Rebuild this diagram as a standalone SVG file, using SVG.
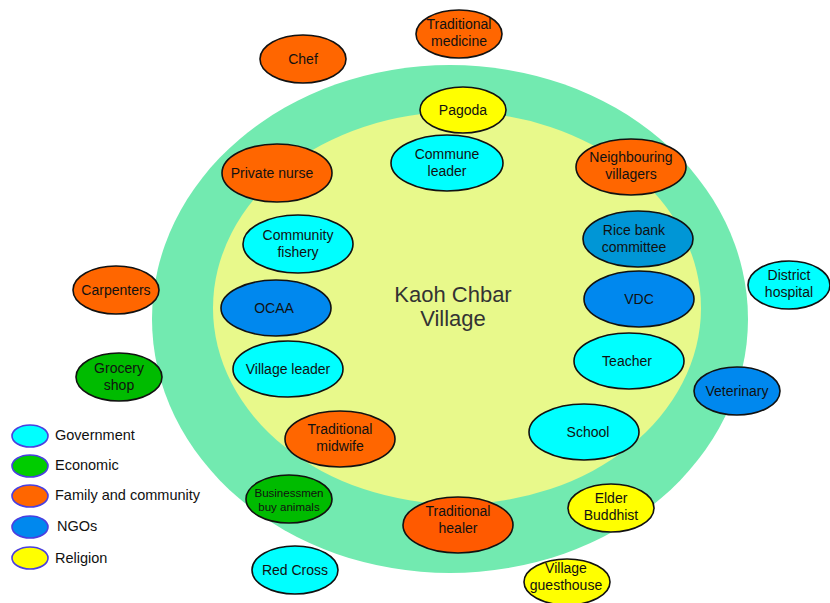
<svg xmlns="http://www.w3.org/2000/svg" width="830" height="603" viewBox="0 0 830 603">
  <style>
    .node ellipse { stroke: #111; stroke-width: 1.6; }
    .node text, .legend text { font-family: "Liberation Sans", Arial, sans-serif; font-size: 14px; fill: #111; text-anchor: middle; }
    .legend text { text-anchor: start; font-size: 14.5px; }
    .legend ellipse { stroke: #4a3fe0; stroke-width: 1.6; }
    .gov { fill: #00ffff; }
    .eco { fill: #00bb00; }
    .fam { fill: #ff6600; }
    .ngo { fill: #0088ee; }
    .ngo2 { fill: #0096d6; }
    .rel { fill: #ffff00; }
    .title { font-family: "Liberation Sans", Arial, sans-serif; font-size: 22px; fill: #333; text-anchor: middle; }
  </style>

  <rect width="830" height="603" fill="#ffffff"/>

  <!-- rings: outside the village and the village itself -->
  <ellipse cx="450" cy="319" rx="298" ry="254" fill="#72eab0"/>
  <ellipse cx="457" cy="308" rx="244" ry="196" fill="#e8f98b"/>

  <g id="village-name">
    <text class="title" x="453" y="302">Kaoh Chbar</text>
    <text class="title" x="453" y="326">Village</text>
  </g>

  <!-- actors -->
  <g id="chef" class="node"><ellipse class="fam" cx="303" cy="59" rx="43" ry="24"/><text x="303" y="64">Chef</text></g>
  <g id="traditional-medicine" class="node"><ellipse class="fam" cx="459" cy="34" rx="43" ry="24"/><text x="459" y="29">Traditional</text><text x="459" y="46">medicine</text></g>
  <g id="pagoda" class="node"><ellipse class="rel" cx="463" cy="110" rx="43" ry="23"/><text x="463" y="115">Pagoda</text></g>
  <g id="commune-leader" class="node"><ellipse class="gov" cx="447" cy="163" rx="56" ry="28"/><text x="447" y="159">Commune</text><text x="447" y="176">leader</text></g>
  <g id="private-nurse" class="node"><ellipse class="fam" cx="277" cy="173" rx="55" ry="29"/><text x="272" y="178">Private nurse</text></g>
  <g id="neighbouring-villagers" class="node"><ellipse class="fam" cx="631" cy="167" rx="55" ry="28"/><text x="631" y="162">Neighbouring</text><text x="631" y="179">villagers</text></g>
  <g id="community-fishery" class="node"><ellipse class="gov" cx="298" cy="244" rx="55" ry="29"/><text x="298" y="240">Community</text><text x="298" y="257">fishery</text></g>
  <g id="rice-bank-committee" class="node"><ellipse class="ngo2" cx="638" cy="239" rx="55" ry="28"/><text x="634" y="235">Rice bank</text><text x="634" y="252">committee</text></g>
  <g id="vdc" class="node"><ellipse class="ngo" cx="639" cy="299" rx="55" ry="28"/><text x="639" y="304">VDC</text></g>
  <g id="district-hospital" class="node"><ellipse class="gov" cx="789" cy="285" rx="41" ry="24"/><text x="789" y="280">District</text><text x="789" y="297">hospital</text></g>
  <g id="carpenters" class="node"><ellipse class="fam" cx="116" cy="290" rx="43" ry="24"/><text x="116" y="295">Carpenters</text></g>
  <g id="ocaa" class="node"><ellipse class="ngo" cx="276" cy="308" rx="55" ry="28"/><text x="274" y="313">OCAA</text></g>
  <g id="grocery-shop" class="node"><ellipse class="eco" cx="119" cy="377" rx="43" ry="24"/><text x="119" y="373">Grocery</text><text x="119" y="390">shop</text></g>
  <g id="village-leader" class="node"><ellipse class="gov" cx="288" cy="369" rx="55" ry="28"/><text x="288" y="374">Village leader</text></g>
  <g id="teacher" class="node"><ellipse class="gov" cx="629" cy="361" rx="55" ry="28"/><text x="627" y="366">Teacher</text></g>
  <g id="veterinary" class="node"><ellipse class="ngo" cx="737" cy="391" rx="43" ry="24"/><text x="737" y="396">Veterinary</text></g>
  <g id="traditional-midwife" class="node"><ellipse class="fam" cx="340" cy="439" rx="55" ry="28"/><text x="340" y="434">Traditional</text><text x="340" y="451">midwife</text></g>
  <g id="school" class="node"><ellipse class="gov" cx="584" cy="432" rx="55" ry="28"/><text x="588" y="437">School</text></g>
  <g id="businessmen" class="node"><ellipse class="eco" cx="289" cy="499" rx="43" ry="24"/><text x="289" y="497" style="font-size:11.5px">Businessmen</text><text x="289" y="511" style="font-size:11.5px">buy animals</text></g>
  <g id="elder-buddhist" class="node"><ellipse class="rel" cx="611" cy="508" rx="43" ry="24"/><text x="611" y="503">Elder</text><text x="611" y="520">Buddhist</text></g>
  <g id="traditional-healer" class="node"><ellipse class="fam" cx="458" cy="525" rx="55" ry="28" style="fill:#ff5a00"/><text x="458" y="516">Traditional</text><text x="458" y="533">healer</text></g>
  <g id="red-cross" class="node"><ellipse class="gov" cx="295" cy="570" rx="43" ry="24"/><text x="295" y="575">Red Cross</text></g>
  <g id="village-guesthouse" class="node"><ellipse class="rel" cx="567" cy="582" rx="43" ry="23"/><text x="566" y="573">Village</text><text x="566" y="590">guesthouse</text></g>

  <!-- key -->
  <g id="legend" class="legend">
    <ellipse class="gov" cx="30" cy="436" rx="18" ry="11"/><text x="55" y="440">Government</text>
    <ellipse cx="30" cy="466" rx="18" ry="11" style="fill:#00cc00"/><text x="55" y="470">Economic</text>
    <ellipse class="fam" cx="30" cy="496" rx="18" ry="11"/><text x="55" y="500">Family and community</text>
    <ellipse class="ngo" cx="30" cy="527" rx="18" ry="11"/><text x="57" y="531">NGOs</text>
    <ellipse class="rel" cx="30" cy="558" rx="18" ry="11"/><text x="55" y="563">Religion</text>
  </g>
</svg>
